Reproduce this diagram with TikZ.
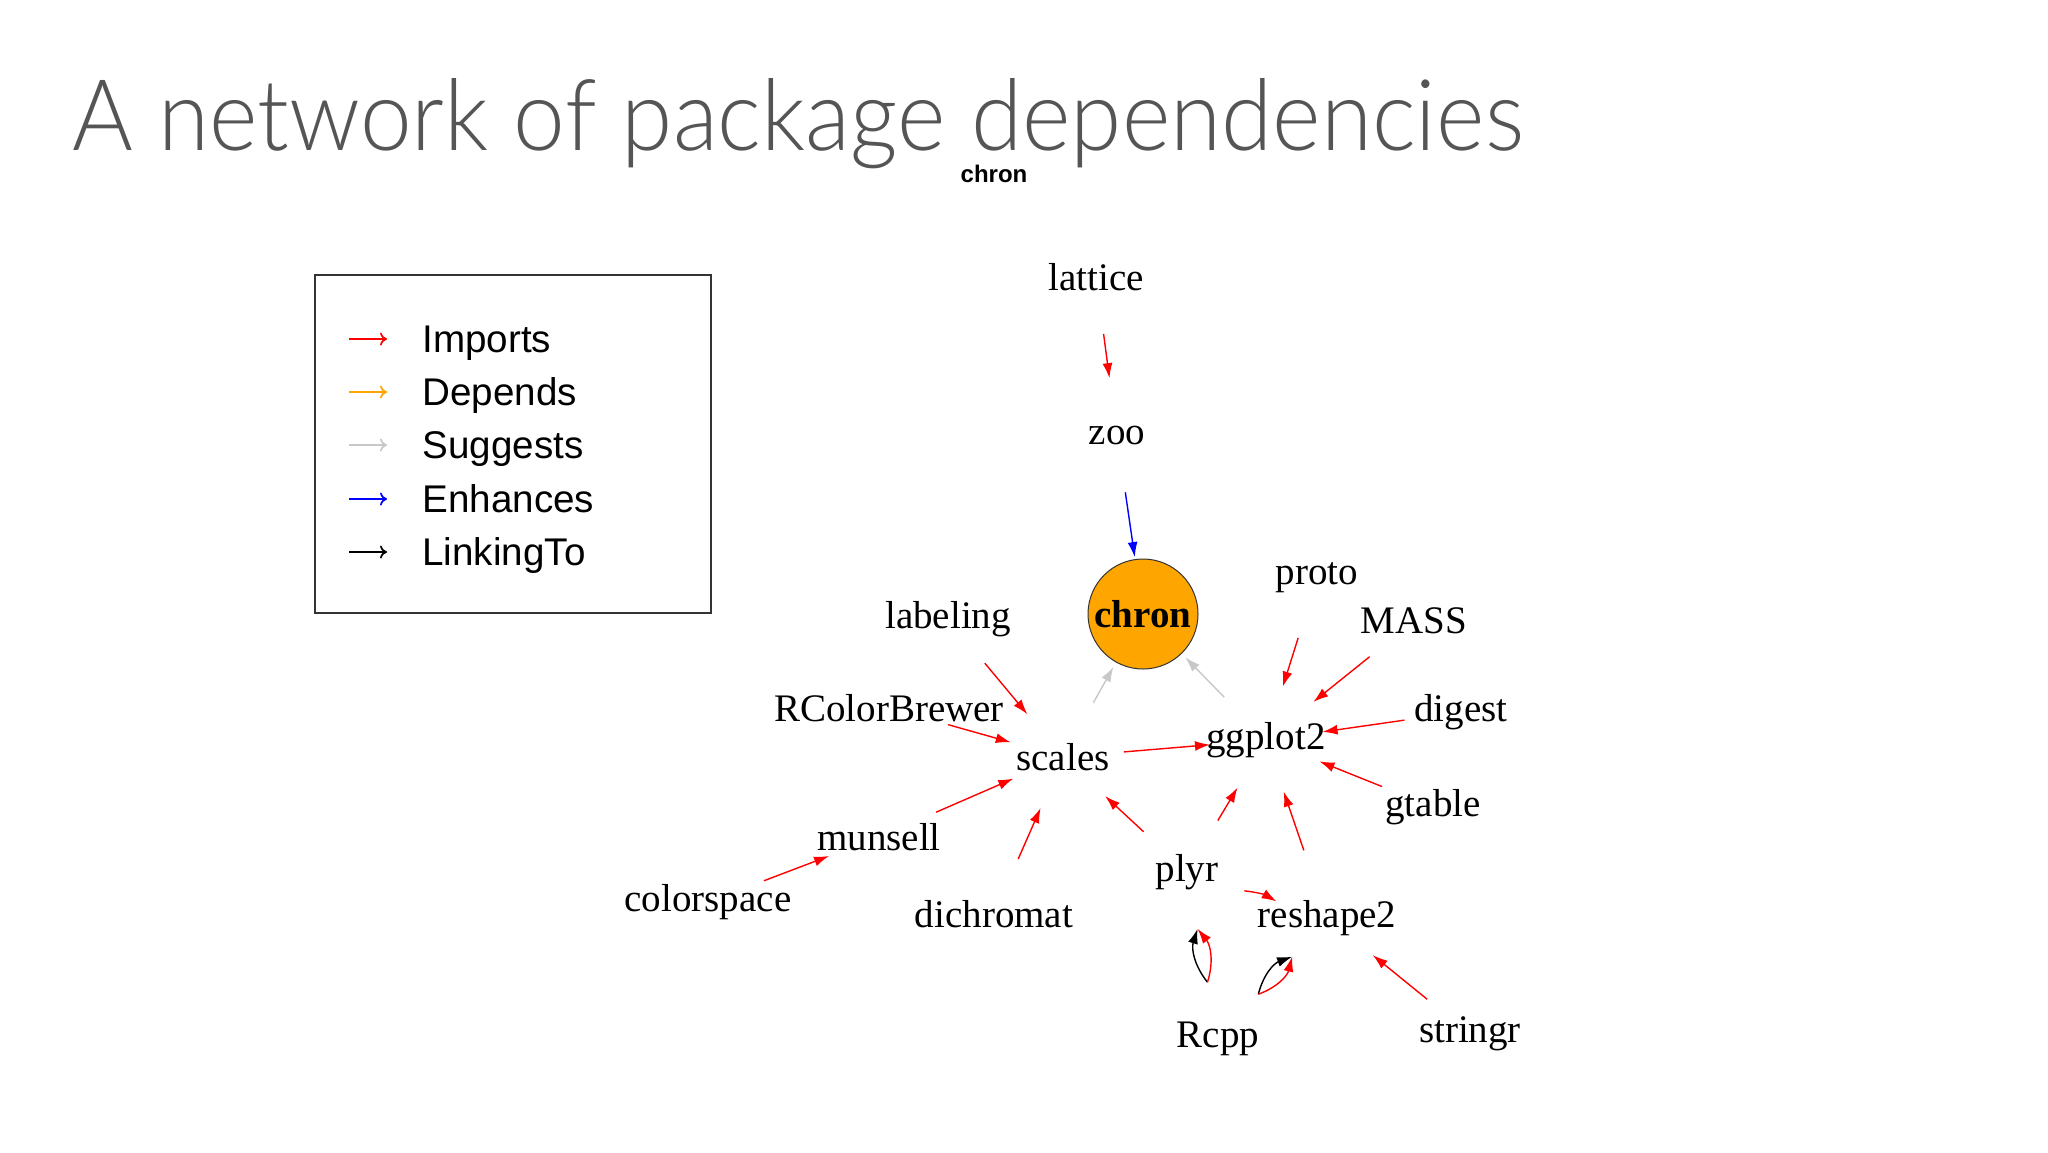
\documentclass[tikz,border=0pt]{standalone}
\usepackage{fontspec}
\setmainfont{Liberation Serif}
\newfontfamily\arialfont{Liberation Sans}
\IfFontExistsTF{Lato Light}{\newfontfamily\titlefont{Lato Light}}{%
  \IfFontExistsTF{Fira Sans Light}{\newfontfamily\titlefont{Fira Sans Light}}{\newfontfamily\titlefont{Open Sans}}}
\usetikzlibrary{arrows.meta,calc}
\definecolor{titlegray}{RGB}{85,85,85}
\definecolor{deporange}{RGB}{255,165,0}
\definecolor{suggray}{RGB}{200,200,200}
\definecolor{impred}{RGB}{255,0,0}
\definecolor{enhblue}{RGB}{0,0,255}
\begin{document}
\begin{tikzpicture}[x=0.5pt,y=-0.5pt,
  pkg/.style={font=\fontsize{19.5}{22}\selectfont, inner sep=0pt},
  legtext/.style={font=\arialfont\fontsize{19.3}{22}\selectfont, inner sep=0pt, anchor=base west},
  legarrow/.style={line width=0.85pt, -{To[length=3.5pt,width=6.5pt]}},
  edge/.style={line width=0.7pt, -{Latex[length=7.5pt,width=5pt]}},
  imp/.style={edge, impred},
  sug/.style={edge, suggray, shorten >=2.5pt},
  enh/.style={edge, enhblue, shorten >=1pt},
  lnk/.style={edge, black}]
\fill[white] (0,0) rectangle (2048,1152);
\useasboundingbox (0,0) rectangle (2048,1152);

% title
\node[anchor=base west, inner sep=0pt, text=titlegray] (title) at (72,150)
  {\resizebox{725.5pt}{36pt}{\titlefont A network of package dependencies}};
\node[font=\arialfont\bfseries\fontsize{12}{14}\selectfont, inner sep=0pt] (chronlabel) at (994,174) {chron};

% legend
\node[draw=black!80, line width=0.6pt, minimum width=198pt, minimum height=169pt, inner sep=0pt] (legend) at (513,444) {};
\node[legtext] (limp) at (422,352) {Imports};
\node[legtext] (ldep) at (422,405) {Depends};
\node[legtext] (lsug) at (422,458) {Suggests};
\node[legtext] (lenh) at (422,512) {Enhances};
\node[legtext] (llnk) at (422,565) {LinkingTo};
\coordinate (a1) at (349,339); \coordinate (b1) at (387,339);
\coordinate (a2) at (349,392); \coordinate (b2) at (387,392);
\coordinate (a3) at (349,445); \coordinate (b3) at (387,445);
\coordinate (a4) at (349,499); \coordinate (b4) at (387,499);
\coordinate (a5) at (349,552); \coordinate (b5) at (387,552);
\draw[legarrow, impred] (a1) -- (b1);
\draw[legarrow, deporange] (a2) -- (b2);
\draw[legarrow, suggray] (a3) -- (b3);
\draw[legarrow, enhblue] (a4) -- (b4);
\draw[legarrow, black] (a5) -- (b5);

% package nodes
\node[pkg] (lattice) at (1096,277) {lattice};
\node[pkg] (zoo) at (1117,435) {zoo};
\node[circle, fill=deporange, draw=black!80, line width=0.5pt, minimum size=55pt, inner sep=0pt,
      font=\bfseries\fontsize{19.5}{22}\selectfont] (chron) at (1143,614) {chron};
\node[pkg] (labeling) at (948,619) {labeling};
\node[pkg] (proto) at (1317,578) {proto};
\node[pkg] (MASS) at (1414,621) {MASS};
\node[pkg] (RColorBrewer) at (889,708) {RColorBrewer};
\node[pkg] (scales) at (1063,757) {scales};
\node[pkg] (ggplot2) at (1266,740) {ggplot2};
\node[pkg] (digest) at (1461,712) {digest};
\node[pkg] (gtable) at (1433,807) {gtable};
\node[pkg] (munsell) at (879,837) {munsell};
\node[pkg] (plyr) at (1187,872) {plyr};
\node[pkg] (colorspace) at (708,902) {colorspace};
\node[pkg] (dichromat) at (994,914) {dichromat};
\node[pkg] (reshape2) at (1327,918) {reshape2};
\node[pkg] (Rcpp) at (1218,1039) {Rcpp};
\node[pkg] (stringr) at (1470,1034) {stringr};

% edges
\draw[imp] ($(lattice)!0.36!(zoo)$) -- ($(lattice)!0.64!(zoo)$);
\draw[enh] ($(zoo)!0.32!(chron)$) -- (chron);
\draw[sug] ($(scales)!0.38!(chron)$) -- (chron);
\draw[sug] ($(ggplot2)!0.34!(chron)$) -- (chron);
\draw[imp] ($(labeling)!0.32!(scales)$) -- ($(labeling)!0.69!(scales)$);
\draw[imp] ($(RColorBrewer)!0.34!(scales)$) -- ($(RColorBrewer)!0.70!(scales)$);
\draw[imp] ($(munsell)!0.31!(scales)$) -- ($(munsell)!0.73!(scales)$);
\draw[imp] ($(dichromat)!0.35!(scales)$) -- ($(dichromat)!0.675!(scales)$);
\draw[imp] ($(plyr)!0.35!(scales)$) -- ($(plyr)!0.66!(scales)$);
\draw[imp] ($(scales)!0.30!(ggplot2)$) -- ($(scales)!0.724!(ggplot2)$);
\draw[imp] ($(colorspace)!0.327!(munsell)$) -- ($(colorspace)!0.708!(munsell)$);
\draw[imp] ($(proto)!0.37!(ggplot2)$) -- ($(proto)!0.67!(ggplot2)$);
\draw[imp] ($(MASS)!0.30!(ggplot2)$) -- ($(MASS)!0.68!(ggplot2)$);
\draw[imp] ($(digest)!0.29!(ggplot2)$) -- ($(digest)!0.71!(ggplot2)$);
\draw[imp] ($(gtable)!0.305!(ggplot2)$) -- ($(gtable)!0.68!(ggplot2)$);
\draw[imp] ($(plyr)!0.39!(ggplot2)$) -- ($(plyr)!0.64!(ggplot2)$);
\draw[imp] ($(reshape2)!0.38!(ggplot2)$) -- ($(reshape2)!0.71!(ggplot2)$);
\draw[imp] ($(plyr)!0.41!(reshape2)$) to[bend left=12] ($(plyr)!0.64!(reshape2)$);
\draw[lnk] ($(Rcpp)!0.34!(plyr)$) to[bend left=28] ($(Rcpp)!0.66!(plyr)$);
\draw[imp] ($(Rcpp)!0.34!(plyr)$) to[bend right=28] ($(Rcpp)!0.66!(plyr)$);
\draw[lnk] ($(Rcpp)!0.37!(reshape2)$) to[bend left=28] ($(Rcpp)!0.68!(reshape2)$);
\draw[imp] ($(Rcpp)!0.37!(reshape2)$) to[bend right=28] ($(Rcpp)!0.68!(reshape2)$);
\draw[imp] ($(stringr)!0.30!(reshape2)$) -- ($(stringr)!0.68!(reshape2)$);
\end{tikzpicture}
\end{document}
